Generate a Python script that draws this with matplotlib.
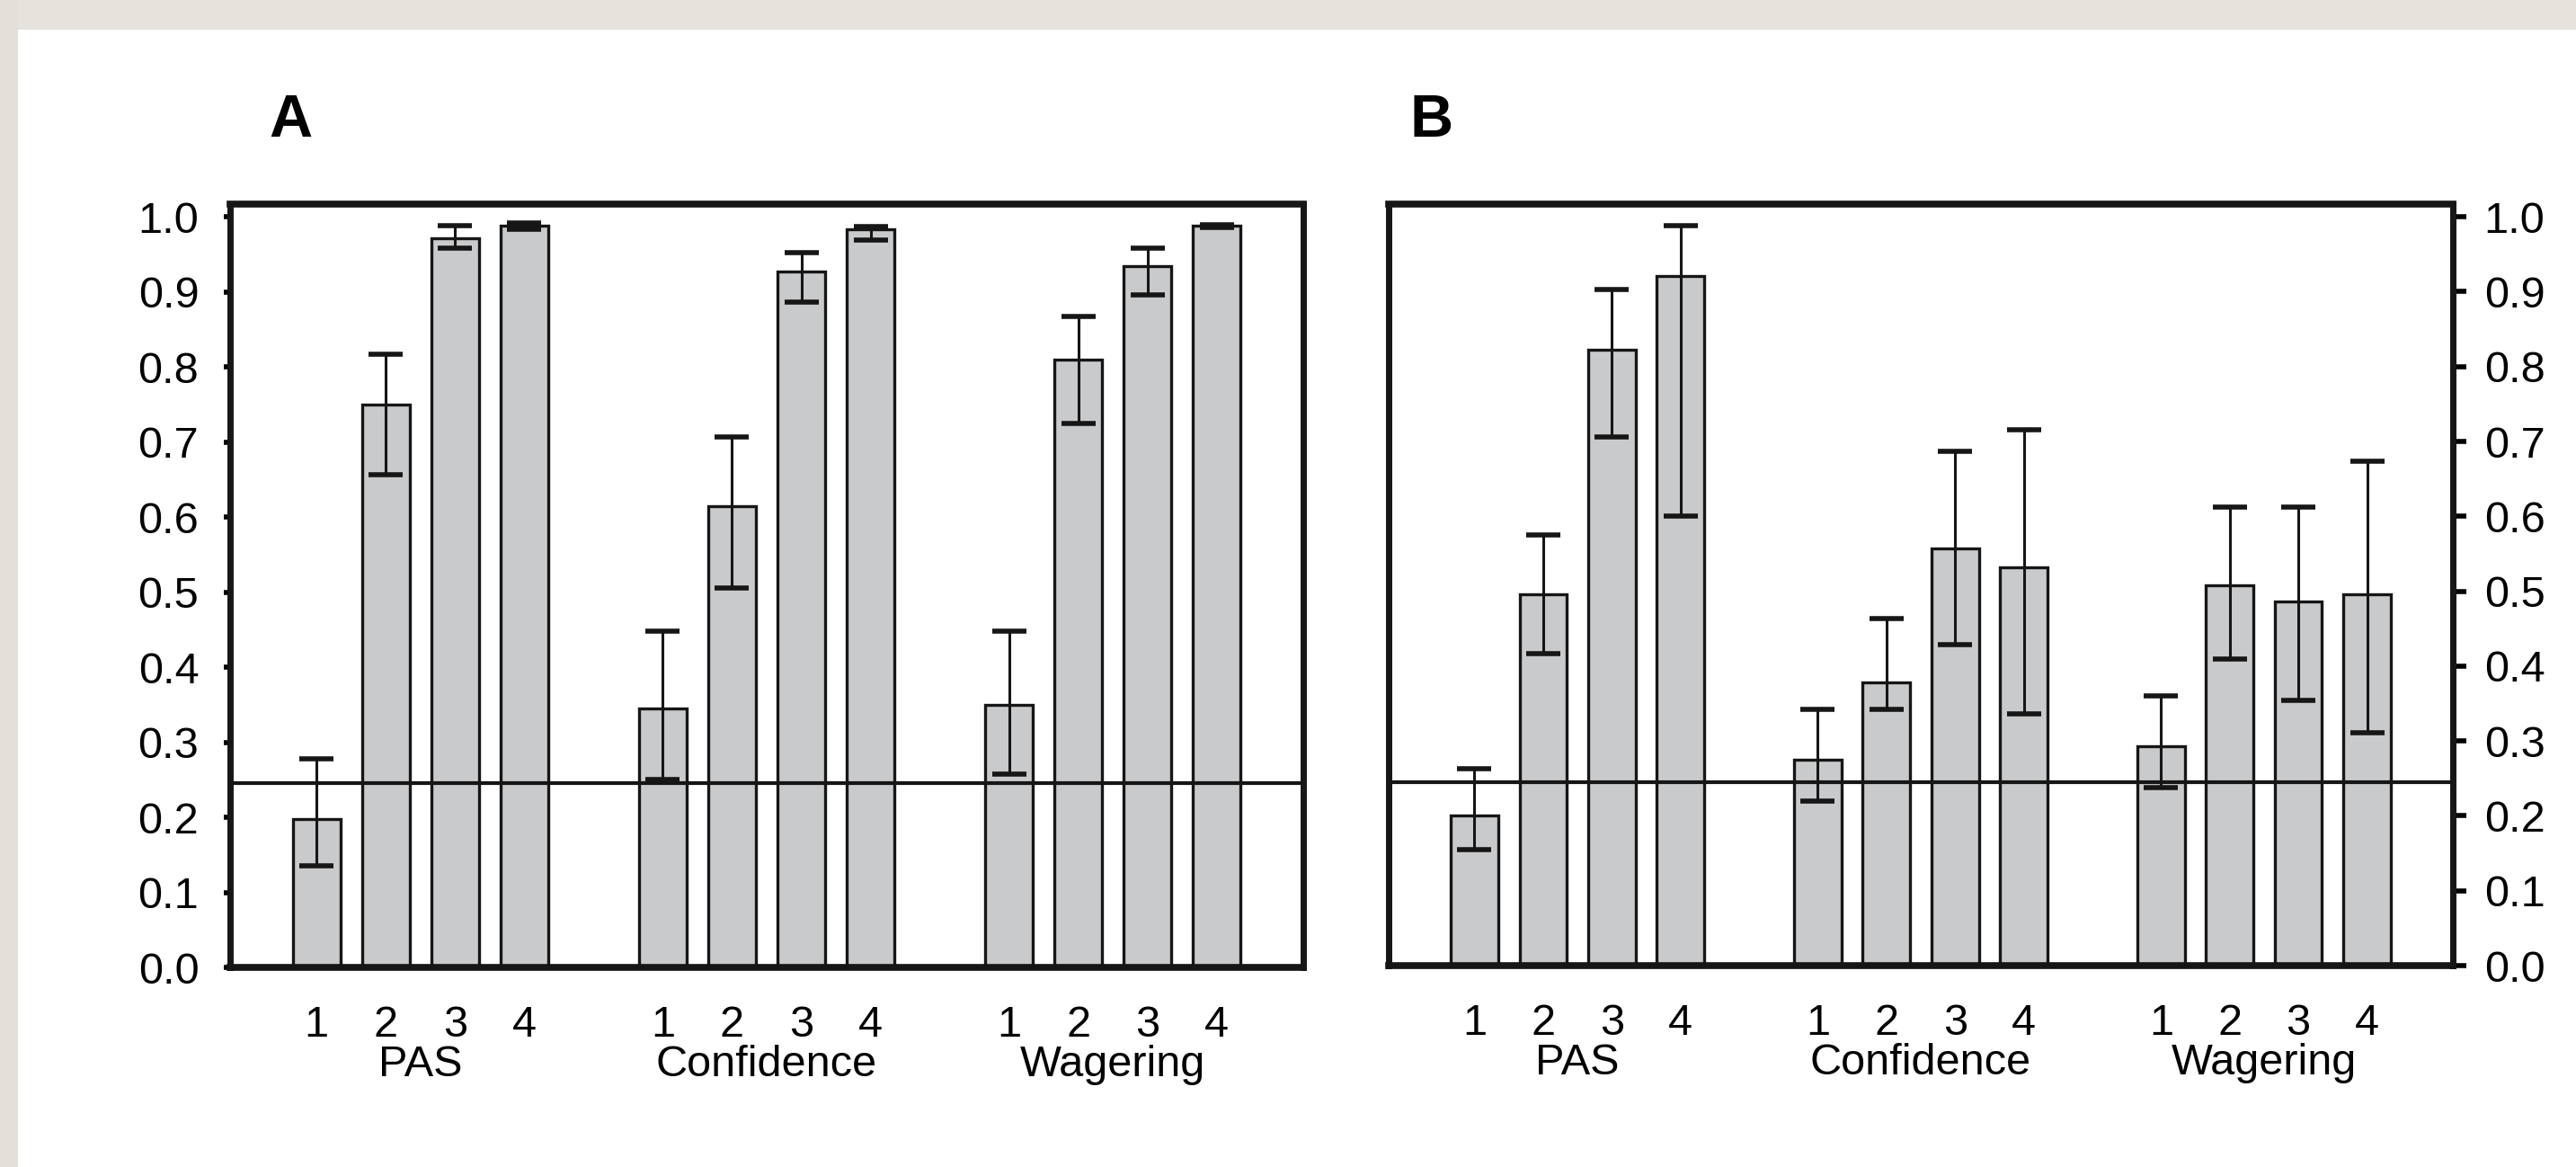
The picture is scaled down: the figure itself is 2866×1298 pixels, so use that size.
import matplotlib
matplotlib.use('Agg')
import matplotlib.pyplot as plt
from matplotlib.patches import Rectangle
import numpy as np

plt.rcParams['font.family'] = ['Liberation Sans', 'DejaVu Sans']

groups = ['PAS', 'Confidence', 'Wagering']
ratings = ['1', '2', '3', '4']
chance = 0.245

# panel A: mean and error bar ends, order PAS 1-4, Confidence 1-4, Wagering 1-4
a_mean = [0.198, 0.750, 0.971, 0.988,
          0.345, 0.614, 0.927, 0.983,
          0.350, 0.810, 0.934, 0.988]
a_low = [0.135, 0.657, 0.958, 0.984,
         0.250, 0.505, 0.886, 0.969,
         0.258, 0.725, 0.896, 0.986]
a_high = [0.278, 0.817, 0.988, 0.992,
          0.448, 0.707, 0.952, 0.987,
          0.448, 0.867, 0.958, 0.990]

# panel B
b_mean = [0.201, 0.496, 0.822, 0.921,
          0.275, 0.378, 0.557, 0.532,
          0.293, 0.508, 0.486, 0.496]
b_low = [0.155, 0.417, 0.706, 0.600,
         0.220, 0.342, 0.429, 0.336,
         0.238, 0.409, 0.354, 0.311]
b_high = [0.263, 0.575, 0.903, 0.988,
          0.342, 0.464, 0.687, 0.716,
          0.360, 0.612, 0.612, 0.674]

pos = np.array([g * 5 + i for g in range(3) for i in range(4)], dtype=float)
bar_color = '#c9cacc'
ink = '#161616'

fig = plt.figure(figsize=(28.66, 12.98), dpi=100)
fig.patch.set_facecolor('white')
fig.patches.append(Rectangle((0, 1 - 33 / 1298), 1, 33 / 1298, transform=fig.transFigure,
                             facecolor='#e6e3dd', edgecolor='none', zorder=0))
fig.patches.append(Rectangle((0, 0), 20 / 2866, 1, transform=fig.transFigure,
                             facecolor='#e3e0da', edgecolor='none', zorder=0))

axA = fig.add_axes([256 / 2866, 222 / 1298, (1450 - 256) / 2866, (1071 - 222) / 1298])
axB = fig.add_axes([1545 / 2866, 224 / 1298, (2729 - 1545) / 2866, (1071 - 224) / 1298])


def draw(ax, mean, low, high, side, letter, letter_x):
    mean = np.array(mean)
    yerr = [mean - np.array(low), np.array(high) - mean]
    ax.bar(pos, mean, width=0.69, color=bar_color, edgecolor=ink, linewidth=2.4, zorder=2)
    ax.errorbar(pos, mean, yerr=yerr, fmt='none', ecolor=ink, elinewidth=2.2,
                capsize=14, capthick=4, zorder=3)
    ax.axhline(chance, color=ink, lw=3, zorder=4)
    ax.set_xlim(-1.25, 14.25)
    ax.set_ylim(0, 1.017)
    ax.set_yticks(np.arange(0, 1.01, 0.1))
    ax.set_yticklabels(['%.1f' % v for v in np.arange(0, 1.01, 0.1)])
    ax.set_xticks(pos)
    ax.set_xticklabels(ratings * 3)
    ax.tick_params(axis='x', length=0, pad=30, labelsize=35)
    if side == 'right':
        ax.yaxis.tick_right()
        ax.tick_params(axis='y', length=11, width=4, pad=14, labelsize=35)
    else:
        ax.tick_params(axis='y', length=5, width=4, pad=20, labelsize=35)
    for s in ['top', 'bottom']:
        ax.spines[s].set_linewidth(5.5)
    for s in ['left', 'right']:
        ax.spines[s].set_linewidth(5)
    for sp in ax.spines.values():
        sp.set_color(ink)
        sp.set_zorder(5)
    for g, name in enumerate(groups):
        ax.text(g * 5 + 1.5, -0.128, name, transform=ax.get_xaxis_transform(),
                ha='center', va='center', fontsize=35)
    fig.text(letter_x / 2866, 1 - 135 / 1298, letter, fontsize=48, fontweight='bold',
             ha='center', va='center')


draw(axA, a_mean, a_low, a_high, 'left', 'A', 323)
draw(axB, b_mean, b_low, b_high, 'right', 'B', 1593)

plt.savefig('out.png', dpi=100, facecolor=fig.get_facecolor())
